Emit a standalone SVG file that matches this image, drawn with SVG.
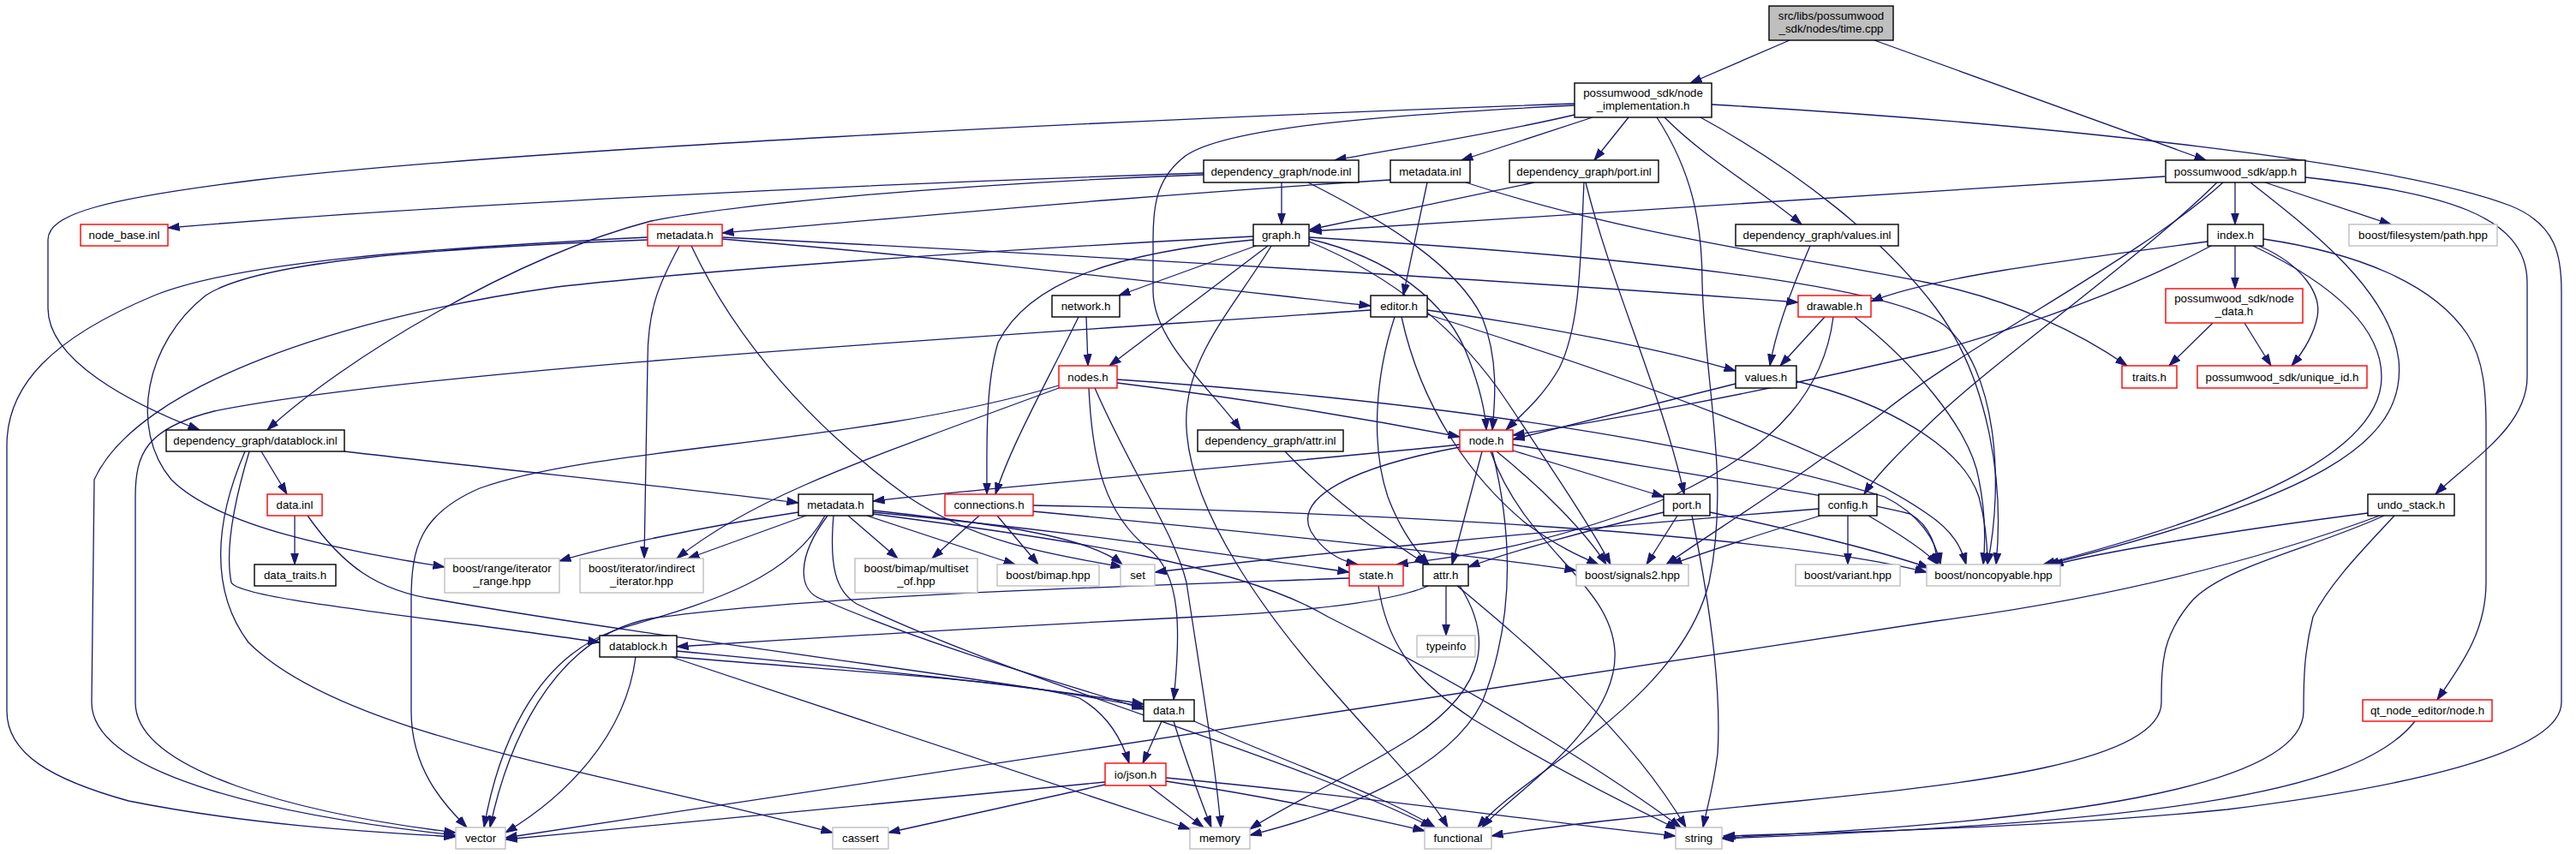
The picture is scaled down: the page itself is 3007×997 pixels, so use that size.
<svg xmlns="http://www.w3.org/2000/svg" width="3007" height="997" viewBox="0 0 3007 997">
<style>
.n rect{fill:#fff;stroke:#000;stroke-width:1.4}
.r rect{stroke:#f00}
.g rect{stroke:#bfbfbf}
.root rect{fill:#bfbfbf}
text{font-family:"Liberation Sans",Arial,sans-serif;font-size:13.3px;text-anchor:middle;fill:#000}
.e path{fill:none;stroke:#191970;stroke-width:1.3;marker-end:url(#ah)}
</style>
<defs>
<marker id="ah" viewBox="0 0 14 10" markerWidth="14" markerHeight="10" refX="13.5" refY="5" orient="auto" markerUnits="userSpaceOnUse"><path d="M0,0.5 L13.5,5 L0,9.5 z" fill="#191970" stroke="#191970" stroke-width="1"/></marker>
</defs>
<rect width="3007" height="997" fill="#fff"/>
<g id="edges" class="e">
<path d="M2089,47 L1973,97"/>
<path d="M2188,47 L2575,187"/>
<path d="M1838,134 C1750,155 1640,172 1558,187"/>
<path d="M1859,137 L1706,187"/>
<path d="M1901,137 L1861,187"/>
<path d="M1943,137 C1990,185 2060,225 2103,262"/>
<path d="M1838,121 C1300,140 600,175 300,210 C120,232 56,250 56,280 L56,360 C56,420 150,470 233,502"/>
<path d="M1838,123 C1600,135 1420,150 1380,185 C1350,210 1346,240 1346,280 L1346,340 C1346,400 1420,460 1448,502"/>
<path d="M1985,137 C2100,200 2200,280 2260,360 C2320,440 2340,560 2330,659"/>
<path d="M1934,137 C1975,200 1987,260 1987,330 C1990,450 2020,560 1995,680 C1960,820 1780,900 1725,966"/>
<path d="M1998,122 C2400,145 2800,190 2930,240 C2985,262 2990,300 2990,340 L2990,820 C2990,880 2800,920 2600,945 C2400,965 2200,970 2012,976"/>
<path d="M2527,206 L1529,270"/>
<path d="M2609,213 L2609,262"/>
<path d="M2644,213 L2791,262"/>
<path d="M2691,207 C2850,225 2950,250 2950,330 L2950,440 C2950,500 2880,540 2843,577"/>
<path d="M2588,213 C2500,300 2330,420 2260,487 C2220,525 2190,555 2176,577"/>
<path d="M2595,213 C2500,300 2300,400 2200,480 C2100,560 2000,620 1945,659"/>
<path d="M2627,213 C2700,270 2790,340 2800,420 C2810,520 2700,580 2390,659"/>
<path d="M1405,202 C1000,215 500,240 196,266"/>
<path d="M1405,204 C1100,215 850,240 760,258 C600,300 400,420 312,502"/>
<path d="M1496,213 L1496,262"/>
<path d="M1527,213 C1620,260 1700,310 1730,370 C1750,420 1745,470 1742,502"/>
<path d="M1623,210 C1300,230 1050,255 843,272"/>
<path d="M1666,213 L1638,345"/>
<path d="M1711,213 C1900,275 2100,300 2250,330 C2350,350 2430,390 2483,427"/>
<path d="M1791,213 L1529,268"/>
<path d="M1849,213 C1845,300 1845,380 1820,430 C1800,465 1775,485 1758,502"/>
<path d="M1851,213 C1880,330 1940,460 1966,577"/>
<path d="M2113,287 C2090,340 2072,390 2066,427"/>
<path d="M756,277 C500,290 280,305 180,345 C60,395 8,450 8,520 L8,830 C8,880 60,910 150,935 C300,965 450,972 532,977"/>
<path d="M756,280 C500,290 300,305 240,345 C170,400 150,500 200,560 C260,620 420,645 519,662"/>
<path d="M793,287 C770,330 756,360 756,420 L752,652"/>
<path d="M807,287 C860,400 950,500 1060,580 C1150,640 1250,650 1310,662"/>
<path d="M843,279 C1100,300 1400,335 1600,357"/>
<path d="M843,277 C1300,300 1800,330 2099,353"/>
<path d="M1463,276 C1100,295 800,318 650,335 C400,370 160,450 110,560 L107,820 C107,900 300,950 532,975"/>
<path d="M1466,287 L1306,345"/>
<path d="M1480,287 L1295,427"/>
<path d="M1463,280 C1300,295 1200,330 1165,400 C1150,450 1152,520 1152,577"/>
<path d="M1484,287 C1440,360 1380,420 1385,500 C1390,600 1480,720 1550,800 C1620,880 1670,930 1690,966"/>
<path d="M1528,279 C1620,300 1690,350 1715,420 C1730,460 1734,485 1735,502"/>
<path d="M1528,282 C1620,320 1700,380 1760,470 C1820,560 1860,620 1880,659"/>
<path d="M1528,277 C1900,300 2200,330 2270,380 C2330,430 2340,560 2320,659"/>
<path d="M2577,282 C2400,305 2250,325 2184,352"/>
<path d="M2581,287 C2500,330 2400,370 2260,410 C2050,460 1850,495 1766,508"/>
<path d="M2609,287 L2609,337"/>
<path d="M2637,287 C2690,310 2710,345 2705,370 C2700,395 2685,415 2675,427"/>
<path d="M2630,287 C2720,330 2780,380 2780,440 C2780,520 2650,590 2385,659"/>
<path d="M2642,279 C2750,295 2840,330 2880,390 C2900,420 2902,460 2902,500 L2902,680 C2902,740 2870,780 2845,817"/>
<path d="M1268,370 L1270,427"/>
<path d="M1259,370 C1220,450 1180,520 1162,577"/>
<path d="M1600,362 C1200,390 500,430 250,480 C170,500 158,530 158,580 L158,820 C158,900 350,950 532,972"/>
<path d="M1666,362 C1800,380 1950,410 2026,433"/>
<path d="M1628,370 C1605,440 1600,520 1620,580 C1635,620 1655,645 1668,659"/>
<path d="M1636,370 C1660,480 1720,560 1780,610 C1820,640 1850,652 1866,659"/>
<path d="M1666,367 C1900,440 2150,530 2250,600 C2280,620 2290,640 2295,659"/>
<path d="M2130,370 L2078,427"/>
<path d="M2140,370 C2130,450 2080,520 1950,580 C1800,640 1700,650 1630,659"/>
<path d="M2165,370 C2230,420 2300,500 2310,560 C2318,600 2318,630 2315,659"/>
<path d="M2583,377 L2532,427"/>
<path d="M2620,377 L2651,427"/>
<path d="M1304,447 C1450,465 1600,490 1704,510"/>
<path d="M1304,443 C1700,470 2000,520 2200,580 C2240,600 2260,630 2265,659"/>
<path d="M1236,450 C1000,520 700,520 560,570 C490,600 480,640 480,700 L480,830 C480,900 520,940 545,966"/>
<path d="M1236,453 C1000,540 880,580 790,652"/>
<path d="M1271,453 C1275,540 1290,600 1340,640 C1380,670 1378,740 1370,817"/>
<path d="M1278,453 C1320,550 1370,620 1385,680 C1400,780 1420,900 1425,966"/>
<path d="M2026,448 C1900,480 1820,500 1766,513"/>
<path d="M2097,445 C2200,470 2290,520 2310,580 C2318,610 2320,640 2320,659"/>
<path d="M402,527 C600,550 800,570 932,587"/>
<path d="M305,527 L335,577"/>
<path d="M291,527 C275,580 262,640 270,680 C280,700 500,720 700,750"/>
<path d="M286,527 C250,610 245,690 290,750 C400,860 700,900 972,972"/>
<path d="M1500,527 C1550,580 1620,630 1665,659"/>
<path d="M1704,519 C1500,540 1200,565 1019,585"/>
<path d="M1704,522 C1580,545 1510,580 1530,620 C1545,645 1565,655 1585,659"/>
<path d="M1730,527 L1695,659"/>
<path d="M1766,526 L1942,580"/>
<path d="M1747,527 C1800,570 1850,620 1875,659"/>
<path d="M1766,519 C1950,550 2150,580 2230,600 C2255,615 2260,640 2262,659"/>
<path d="M1742,527 C1765,620 1770,720 1730,820 C1690,900 1560,950 1459,975"/>
<path d="M1740,527 C1780,640 1880,680 1885,760 C1890,850 1760,930 1730,966"/>
<path d="M344,602 L344,659"/>
<path d="M359,602 C400,660 440,690 510,700 C800,750 1150,790 1335,825"/>
<path d="M932,598 C820,615 700,640 653,655"/>
<path d="M941,602 L803,652"/>
<path d="M963,602 C920,680 820,705 720,735 C620,770 580,880 565,966"/>
<path d="M990,602 L1048,652"/>
<path d="M1012,602 L1185,659"/>
<path d="M1019,596 C1150,610 1270,625 1310,659"/>
<path d="M1019,598 C1250,620 1450,650 1575,668"/>
<path d="M966,602 C930,650 930,690 960,700 C1100,760 1250,800 1335,828"/>
<path d="M973,602 C968,660 975,690 1000,705 C1200,800 1500,880 1672,966"/>
<path d="M1019,600 C1250,630 1450,660 1550,720 C1750,820 1900,920 1962,966"/>
<path d="M1143,602 L1088,652"/>
<path d="M1164,602 L1212,659"/>
<path d="M1206,597 C1450,620 1700,645 1840,666"/>
<path d="M1206,590 C1700,600 2100,630 2249,668"/>
<path d="M1958,602 L1922,659"/>
<path d="M1942,598 C1850,620 1760,645 1714,662"/>
<path d="M1975,602 C1995,700 2010,800 2005,880 C2000,920 1992,945 1988,966"/>
<path d="M1996,598 C2100,620 2200,645 2252,663"/>
<path d="M2123,594 C1800,620 1500,650 1348,668"/>
<path d="M2125,602 C2050,625 1990,645 1950,659"/>
<path d="M2157,602 L2157,659"/>
<path d="M2181,602 C2220,625 2250,645 2262,659"/>
<path d="M2764,599 C2600,620 2450,645 2395,660"/>
<path d="M2778,602 C2620,660 2450,700 2260,725 C1800,790 1200,890 590,978"/>
<path d="M2783,602 C2700,640 2600,660 2560,700 C2525,740 2523,770 2523,820 C2523,890 2300,915 2100,935 C1950,950 1800,965 1741,976"/>
<path d="M2795,602 C2760,640 2720,680 2700,720 C2690,760 2689,790 2689,830 C2689,920 2400,960 2010,978"/>
<path d="M1575,675 C1300,685 950,695 760,722 C640,745 590,880 572,966"/>
<path d="M1609,684 C1620,760 1660,800 1720,840 C1820,900 1900,940 1958,968"/>
<path d="M1667,684 C1620,705 1500,715 1400,720 C1100,735 900,748 790,755"/>
<path d="M1688,684 L1688,742"/>
<path d="M1704,684 C1740,740 1740,800 1650,860 C1580,905 1500,940 1459,968"/>
<path d="M1701,684 C1780,750 1900,850 1968,966"/>
<path d="M790,760 C1000,780 1200,800 1335,822"/>
<path d="M790,767 C1000,785 1200,795 1260,815 C1295,835 1310,865 1318,891"/>
<path d="M742,767 C730,860 660,930 590,972"/>
<path d="M784,767 L1389,968"/>
<path d="M1356,842 L1334,891"/>
<path d="M1370,842 C1385,890 1400,930 1414,966"/>
<path d="M1394,842 C1500,890 1620,930 1675,966"/>
<path d="M2819,842 C2750,930 2500,960 2010,979"/>
<path d="M1290,913 C1000,940 800,960 590,980"/>
<path d="M1290,916 L1037,972"/>
<path d="M1341,917 L1405,966"/>
<path d="M1361,912 C1480,930 1600,955 1663,970"/>
<path d="M1361,908 C1600,930 1800,960 1956,976"/>
</g>
<g id="n0" class="n root"><rect x="2065" y="7" width="145" height="40"/><text x="2137.5" y="23">src/libs/possumwood</text><text x="2137.5" y="38">_sdk/nodes/time.cpp</text></g>
<g id="n1" class="n"><rect x="1838" y="97" width="160" height="40"/><text x="1918" y="113">possumwood_sdk/node</text><text x="1918" y="128">_implementation.h</text></g>
<g id="n2" class="n"><rect x="2528" y="187" width="163" height="26"/><text x="2609.5" y="204.5">possumwood_sdk/app.h</text></g>
<g id="n3" class="n"><rect x="1405" y="187" width="181" height="26"/><text x="1495.5" y="204.5">dependency_graph/node.inl</text></g>
<g id="n4" class="n"><rect x="1623" y="187" width="93" height="26"/><text x="1669.5" y="204.5">metadata.inl</text></g>
<g id="n5" class="n"><rect x="1762" y="187" width="174" height="26"/><text x="1849" y="204.5">dependency_graph/port.inl</text></g>
<g id="n6" class="n"><rect x="2026" y="262" width="190" height="25"/><text x="2121" y="279">dependency_graph/values.inl</text></g>
<g id="n7" class="n r"><rect x="94" y="262" width="102" height="25"/><text x="145" y="279">node_base.inl</text></g>
<g id="n8" class="n r"><rect x="756" y="262" width="87" height="25"/><text x="799.5" y="279">metadata.h</text></g>
<g id="n9" class="n"><rect x="1463" y="262" width="65" height="25"/><text x="1495.5" y="279">graph.h</text></g>
<g id="n10" class="n"><rect x="2577" y="262" width="65" height="25"/><text x="2609.5" y="279">index.h</text></g>
<g id="n11" class="n g"><rect x="2742" y="262" width="173" height="25"/><text x="2828.5" y="279">boost/filesystem/path.hpp</text></g>
<g id="n12" class="n"><rect x="1228" y="345" width="79" height="25"/><text x="1267.5" y="362">network.h</text></g>
<g id="n13" class="n"><rect x="1600" y="345" width="66" height="25"/><text x="1633" y="362">editor.h</text></g>
<g id="n14" class="n r"><rect x="2099" y="345" width="85" height="25"/><text x="2141.5" y="362">drawable.h</text></g>
<g id="n15" class="n r"><rect x="2528" y="337" width="160" height="40"/><text x="2608" y="353">possumwood_sdk/node</text><text x="2608" y="368">_data.h</text></g>
<g id="n16" class="n r"><rect x="1236" y="427" width="68" height="26"/><text x="1270" y="444.5">nodes.h</text></g>
<g id="n17" class="n"><rect x="2026" y="427" width="71" height="26"/><text x="2061.5" y="444.5">values.h</text></g>
<g id="n18" class="n r"><rect x="2477" y="427" width="64" height="26"/><text x="2509" y="444.5">traits.h</text></g>
<g id="n19" class="n r"><rect x="2565" y="427" width="198" height="26"/><text x="2664" y="444.5">possumwood_sdk/unique_id.h</text></g>
<g id="n20" class="n"><rect x="194" y="502" width="208" height="25"/><text x="298" y="519">dependency_graph/datablock.inl</text></g>
<g id="n21" class="n"><rect x="1398" y="502" width="170" height="25"/><text x="1483" y="519">dependency_graph/attr.inl</text></g>
<g id="n22" class="n r"><rect x="1704" y="502" width="62" height="25"/><text x="1735" y="519">node.h</text></g>
<g id="n23" class="n r"><rect x="312" y="577" width="64" height="25"/><text x="344" y="594">data.inl</text></g>
<g id="n24" class="n"><rect x="932" y="577" width="87" height="25"/><text x="975.5" y="594">metadata.h</text></g>
<g id="n25" class="n r"><rect x="1103" y="577" width="103" height="25"/><text x="1154.5" y="594">connections.h</text></g>
<g id="n26" class="n"><rect x="1942" y="577" width="54" height="25"/><text x="1969" y="594">port.h</text></g>
<g id="n27" class="n"><rect x="2123" y="577" width="68" height="25"/><text x="2157" y="594">config.h</text></g>
<g id="n28" class="n"><rect x="2764" y="577" width="101" height="25"/><text x="2814.5" y="594">undo_stack.h</text></g>
<g id="n29" class="n"><rect x="297" y="659" width="95" height="25"/><text x="344.5" y="676">data_traits.h</text></g>
<g id="n30" class="n g"><rect x="519" y="652" width="134" height="40"/><text x="586" y="668">boost/range/iterator</text><text x="586" y="683">_range.hpp</text></g>
<g id="n31" class="n g"><rect x="677" y="652" width="144" height="40"/><text x="749" y="668">boost/iterator/indirect</text><text x="749" y="683">_iterator.hpp</text></g>
<g id="n32" class="n g"><rect x="998" y="652" width="143" height="40"/><text x="1069.5" y="668">boost/bimap/multiset</text><text x="1069.5" y="683">_of.hpp</text></g>
<g id="n33" class="n g"><rect x="1164" y="659" width="119" height="25"/><text x="1223.5" y="676">boost/bimap.hpp</text></g>
<g id="n34" class="n g"><rect x="1308" y="659" width="40" height="25"/><text x="1328" y="676">set</text></g>
<g id="n35" class="n r"><rect x="1575" y="659" width="63" height="25"/><text x="1606.5" y="676">state.h</text></g>
<g id="n36" class="n"><rect x="1661" y="659" width="53" height="25"/><text x="1687.5" y="676">attr.h</text></g>
<g id="n37" class="n g"><rect x="1840" y="659" width="131" height="25"/><text x="1905.5" y="676">boost/signals2.hpp</text></g>
<g id="n38" class="n g"><rect x="2096" y="659" width="122" height="25"/><text x="2157" y="676">boost/variant.hpp</text></g>
<g id="n39" class="n g"><rect x="2249" y="659" width="156" height="25"/><text x="2327" y="676">boost/noncopyable.hpp</text></g>
<g id="n40" class="n"><rect x="700" y="742" width="90" height="25"/><text x="745" y="759">datablock.h</text></g>
<g id="n41" class="n g"><rect x="1654" y="742" width="68" height="25"/><text x="1688" y="759">typeinfo</text></g>
<g id="n42" class="n"><rect x="1335" y="817" width="59" height="25"/><text x="1364.5" y="834">data.h</text></g>
<g id="n43" class="n r"><rect x="2758" y="817" width="151" height="25"/><text x="2833.5" y="834">qt_node_editor/node.h</text></g>
<g id="n44" class="n r"><rect x="1290" y="891" width="71" height="26"/><text x="1325.5" y="908.5">io/json.h</text></g>
<g id="n45" class="n g"><rect x="532" y="966" width="58" height="25"/><text x="561" y="983">vector</text></g>
<g id="n46" class="n g"><rect x="972" y="966" width="65" height="25"/><text x="1004.5" y="983">cassert</text></g>
<g id="n47" class="n g"><rect x="1389" y="966" width="70" height="25"/><text x="1424" y="983">memory</text></g>
<g id="n48" class="n g"><rect x="1663" y="966" width="78" height="25"/><text x="1702" y="983">functional</text></g>
<g id="n49" class="n g"><rect x="1956" y="966" width="54" height="25"/><text x="1983" y="983">string</text></g>
</svg>
